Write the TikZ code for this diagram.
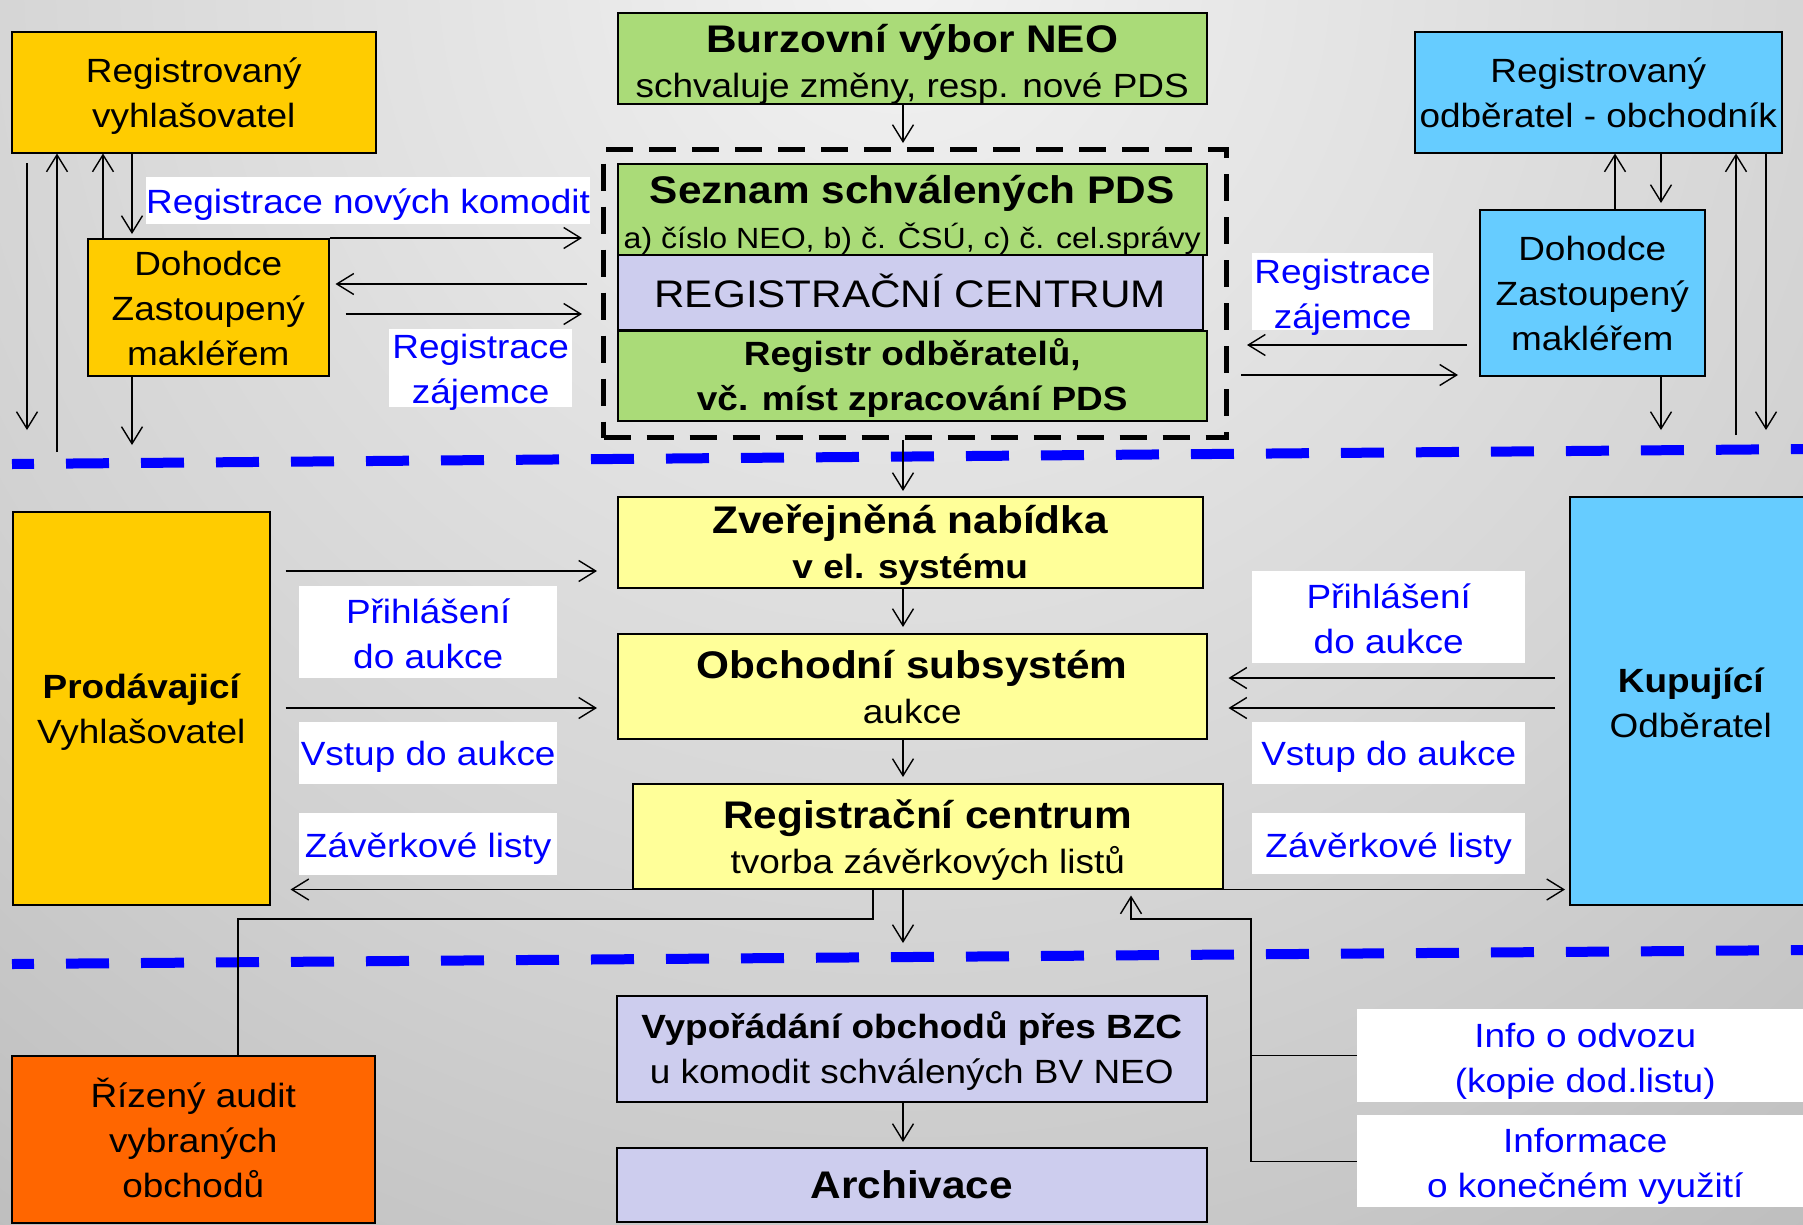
\documentclass[tikz,border=0pt]{standalone}
\usepackage{fontspec}
\setmainfont[FakeStretch=1.1]{Liberation Sans}
\usetikzlibrary{arrows.meta,calc}
\definecolor{cyl}{HTML}{FFCC00}
\definecolor{cgr}{HTML}{AADB78}
\definecolor{clv}{HTML}{CDCDEE}
\definecolor{clyel}{HTML}{FFFF99}
\definecolor{cbl}{HTML}{66CCFF}
\definecolor{cor}{HTML}{FF6600}
\definecolor{ctx}{HTML}{0000FF}
\definecolor{bga}{HTML}{F2F2F2}
\definecolor{bgb}{HTML}{D2D2D2}
\definecolor{bgc}{HTML}{B6B6B6}
\definecolor{bgd}{HTML}{9C9C9C}
\definecolor{bge}{HTML}{8A8A8A}
\pgfdeclareradialshading{bgshade}{\pgfpoint{0bp}{0bp}}{color(0bp)=(bga); color(15bp)=(bgb); color(26bp)=(bgc); color(38bp)=(bgd); color(47bp)=(bge); color(50bp)=(bge)}
\newcommand{\fNorm}{\fontsize{33.6}{45}\selectfont}
\newcommand{\fBig}{\fontsize{38.5}{45}\selectfont\bfseries}
\newcommand{\fSmall}{\fontsize{29.2}{45}\selectfont}
% first line: strut of given height, text smashed; other lines smashed
\newcommand{\fl}[2]{\rule{0pt}{#1pt}\smash{#2}}
\newcommand{\ol}[1]{\smash{#1}}
\begin{document}
\begin{tikzpicture}[x=1pt,y=-1pt,
  box/.style={draw=black, line width=1.5pt, fill=#1, inner sep=0pt, anchor=north west, align=center, font=\fNorm, text=black},
  lbl/.style={fill=white, draw=none, inner sep=0pt, anchor=north west, align=center, font=\fNorm, text=ctx},
  arr/.style={line width=1.4pt, -{Straight Barb[length=17pt,width=21pt,line width=1.4pt]}},
  con/.style={line width=1.4pt},
  bdash/.style={draw=ctx, line width=10pt, dash pattern=on 43pt off 32pt, dash phase=21pt},
  dbox/.style={draw=black, line width=5pt, dash pattern=on 27pt off 16pt, inner sep=0pt, anchor=north west}]
% background
\begin{scope}
\clip (0,0) rectangle (1803,1224);
\shade[shading=bgshade] (900,-30) circle[radius=1700];
\end{scope}
\useasboundingbox (0,0) rectangle (1803,1224);
% blue separators
\draw[bdash] (12,464) -- (1810,449);
\draw[bdash] (12,964) -- (1810,950);
% top left
\node[box=cyl, minimum width=364, minimum height=121] (rv) at (11,31) {\fl{26}{Registrovaný}\\\ol{vyhlašovatel}};
\node[box=cyl, minimum width=241, minimum height=137] (dl) at (87,238) {\fl{27}{Dohodce}\\\ol{Zastoupený}\\\ol{makléřem}};
% centre top
\node[box=cgr, minimum width=589, minimum height=91] (bv) at (617,12) {\fl{34}{\fBig Burzovní výbor NEO}\\\ol{schvaluje změny, resp. nové PDS}};
\node[dbox, minimum width=623, minimum height=288] (db) at (601,147) {};
\node[box=cgr, minimum width=589, minimum height=91] (sz) at (617,163) {\fl{34}{\fBig Seznam schválených PDS}\\\ol{\fSmall a) číslo NEO, b) č. ČSÚ, c) č. cel.správy}};
\node[box=clv, minimum width=585, minimum height=75, font=\fontsize{38.4}{45}\selectfont] (rc) at (617,254) {\fl{31}{REGISTRAČNÍ CENTRUM}};
\node[box=cgr, minimum width=589, minimum height=90, font=\fNorm\bfseries] (ro) at (617,330) {\fl{25}{Registr odběratelů,}\\\ol{vč. míst zpracování PDS}};
% top right
\node[box=cbl, minimum width=367, minimum height=121] (rr) at (1414,31) {\fl{26}{Registrovaný}\\\ol{odběratel - obchodník}};
\node[box=cbl, minimum width=225, minimum height=166] (dr) at (1479,209) {\fl{26}{Dohodce}\\\ol{Zastoupený}\\\ol{makléřem}};
% middle
\node[box=clyel, minimum width=585, minimum height=91] (zn) at (617,496) {\fl{28}{\fBig Zveřejněná nabídka}\\\ol{\bfseries v el. systému}};
\node[box=clyel, minimum width=589, minimum height=105] (os) at (617,633) {\fl{30}{\fBig Obchodní subsystém}\\\ol{aukce}};
\node[box=clyel, minimum width=590, minimum height=105] (rcz) at (632,783) {\fl{30}{\fBig Registrační centrum}\\\ol{tvorba závěrkových listů}};
\node[box=cyl, minimum width=257, minimum height=393] (pv) at (12,511) {\fl{26}{\bfseries Prodávajicí}\\\ol{Vyhlašovatel}};
\node[box=cbl, minimum width=242, minimum height=408] (ko) at (1569,496) {\fl{29}{\bfseries Kupující}\\\ol{Odběratel}};
% bottom
\node[box=clv, minimum width=590, minimum height=106] (vy) at (616,995) {\fl{25}{\bfseries Vypořádání obchodů přes BZC}\\\ol{u komodit schválených BV NEO}};
\node[box=clv, minimum width=590, minimum height=74] (ar) at (616,1147) {\fl{28}{\fBig Archivace}};
\node[box=cor, minimum width=363, minimum height=167] (au) at (11,1055) {\fl{27}{Řízený audit}\\\ol{vybraných}\\\ol{obchodů}};
% labels
\node[lbl, minimum width=442, minimum height=47] (l1) at (146,177) {\fl{25}{Registrace nových komodit}};
\node[lbl, minimum width=183, minimum height=78] (l2) at (389,329) {\fl{25}{Registrace}\\\ol{zájemce}};
\node[lbl, minimum width=181, minimum height=77] (l3) at (1252,253) {\fl{28}{Registrace}\\\ol{zájemce}};
\node[lbl, minimum width=258, minimum height=92] (l4) at (299,586) {\fl{27}{Přihlášení}\\\ol{do aukce}};
\node[lbl, minimum width=258, minimum height=62] (l5) at (299,722) {\fl{24}{Vstup do aukce}};
\node[lbl, minimum width=258, minimum height=62] (l6) at (299,813) {\fl{26}{Závěrkové listy}};
\node[lbl, minimum width=273, minimum height=92] (l7) at (1252,571) {\fl{27}{Přihlášení}\\\ol{do aukce}};
\node[lbl, minimum width=273, minimum height=62] (l8) at (1252,722) {\fl{24}{Vstup do aukce}};
\node[lbl, minimum width=273, minimum height=61] (l9) at (1252,813) {\fl{27}{Závěrkové listy}};
\node[lbl, minimum width=456, minimum height=93] (l10) at (1357,1009) {\fl{28}{Info o odvozu}\\\ol{(kopie dod.listu)}};
\node[lbl, minimum width=456, minimum height=92] (l11) at (1357,1115) {\fl{27}{Informace}\\\ol{o konečném využití}};
% free ends
\coordinate (f1a) at (27,163);
\coordinate (f1b) at (27,430);
\coordinate (f2) at (57,452);
\coordinate (f5) at (132,445);
\coordinate (f6) at (1661,430);
\coordinate (f7) at (1736,435);
\coordinate (f8) at (1766,430);
\coordinate (f9) at (903,943);
\coordinate (j1) at (238,919);
\coordinate (j2) at (1251,919);
% top left connectors
\draw[arr] (f1a) -- (f1b);
\draw[arr] (f2) -- (f2 |- rv.south);
\draw[arr] ([xshift=16pt]dl.north west) -- ([xshift=16pt]dl.north west |- rv.south);
\draw[arr, shorten >=4pt] ([xshift=121pt]rv.south west) -- ([xshift=45pt]dl.north west);
\draw[arr] ([xshift=45pt]dl.south west) -- (f5);
\draw[arr, shorten >=19pt] (dl.north east) -- (db.west |- dl.north east);
\draw[arr, shorten <=14pt, shorten >=6pt] (db.west |- 0,284) -- (dl.east |- 0,284);
\draw[arr, shorten <=16pt, shorten >=19pt] (dl.east |- 0,314) -- (db.west |- 0,314);
% top right connectors
\draw[arr] (dr.north -| 1615,0) -- (rr.south -| 1615,0);
\draw[arr, shorten >=6pt] (rr.south -| 1661,0) -- (dr.north -| 1661,0);
\draw[arr] (dr.south -| 1661,0) -- (f6);
\draw[arr] (f7) -- (rr.south -| 1736,0);
\draw[arr] (rr.south -| 1766,0) -- (f8);
\draw[arr, shorten <=12pt, shorten >=18pt] (dr.west |- 0,345) -- (db.east |- 0,345);
\draw[arr, shorten <=12pt, shorten >=21pt] (db.east |- 0,375) -- (dr.west |- 0,375);
% centre connectors
\draw[arr, shorten >=4pt] (bv.south -| 903,0) -- (db.north -| 903,0);
\draw[arr, shorten >=5pt] (db.south -| 903,0) -- (zn.north -| 903,0);
\draw[arr, shorten >=6pt] (zn.south -| 903,0) -- (os.north -| 903,0);
\draw[arr, shorten >=6pt] (os.south -| 903,0) -- (rcz.north -| 903,0);
\draw[arr] (rcz.south -| 903,0) -- (f9);
\draw[arr, shorten >=5pt] (vy.south -| 903,0) -- (ar.north -| 903,0);
% middle connectors
\draw[arr, shorten <=15pt, shorten >=20pt] (pv.east |- 0,571) -- (zn.west |- 0,571);
\draw[arr, shorten <=15pt, shorten >=20pt] (pv.east |- 0,708) -- (os.west |- 0,708);
\draw[arr, shorten >=20pt] (rcz.south west) -- (pv.east |- rcz.south west);
\draw[arr, shorten >=4pt] (rcz.south east) -- (ko.west |- rcz.south east);
\draw[arr, shorten <=14pt, shorten >=21pt] (ko.west |- 0,678) -- (os.east |- 0,678);
\draw[arr, shorten <=14pt, shorten >=21pt] (ko.west |- 0,708) -- (os.east |- 0,708);
% bottom connectors
\draw[con] (rcz.south -| 873,0) |- (j1) -- (au.north -| j1);
\draw[arr, shorten >=6pt] (l10.west) -| (j2) -| (rcz.south -| 1131,0);
\draw[con] (l11.west) -| (j2 |- l10.west);
\end{tikzpicture}
\end{document}
